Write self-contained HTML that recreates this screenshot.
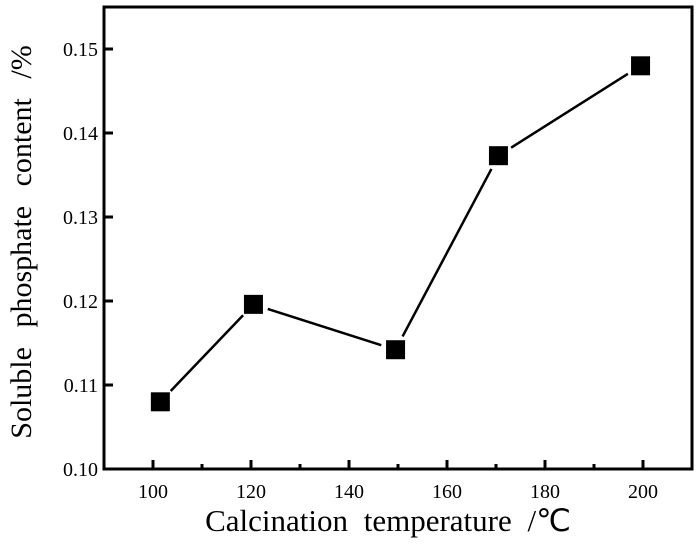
<!DOCTYPE html>
<html><head><meta charset="utf-8"><style>body{margin:0;background:#fff}svg{display:block}</style></head>
<body>
<svg id="c" width="700" height="546" font-family="'Liberation Serif',serif">
<rect x="104" y="7" width="588" height="462" fill="none" stroke="#000" stroke-width="3"/>
<g id="ax"></g><g id="ser"></g>
<text x="388" y="531" font-size="31" word-spacing="8" text-anchor="middle">Calcination temperature /℃</text>
<text transform="translate(31,242) rotate(-90)" font-size="30" word-spacing="12" text-anchor="middle">Soluble phosphate content /%</text>
</svg>
<script>
const temps=[101.5,120.5,149.5,170.5,199.5];
const content=[0.108,0.1196,0.1142,0.1373,0.148];
const xTicks=[100,120,140,160,180,200];
const yTicks=[0.10,0.11,0.12,0.13,0.14,0.15];
const NS='http://www.w3.org/2000/svg';
const X=v=>153+(v-100)*4.9, Y=v=>469-(v-0.10)*8400;
function mk(t,a,p){const e=document.createElementNS(NS,t);for(const k in a)e.setAttribute(k,a[k]);p.appendChild(e);return e;}
const ax=document.getElementById('ax'),ser=document.getElementById('ser');
xTicks.forEach(v=>{const l=mk('line',{x1:X(v),x2:X(v),y1:469,y2:460,stroke:'#000','stroke-width':3},ax);

const m=mk('line',{x1:X(v+10),x2:X(v+10),y1:469,y2:464,stroke:'#000','stroke-width':3},ax);

const t=mk('text',{x:X(v),y:498,'font-size':20,'text-anchor':'middle'},ax);t.textContent=v;
});
yTicks.forEach(v=>{const l=mk('line',{x1:104,x2:113,y1:Y(v),y2:Y(v),stroke:'#000','stroke-width':3},ax);

const t=mk('text',{x:98,y:Y(v)+7,'font-size':20,'text-anchor':'end'},ax);t.textContent=v.toFixed(2);
});
for(let i=0;i<temps.length-1;i++){const x1=X(temps[i]),y1=Y(content[i]),x2=X(temps[i+1]),y2=Y(content[i+1]);
const dx=x2-x1,dy=y2-y1,d=Math.hypot(dx,dy),g=15;
const l=mk('line',{x1:x1+dx/d*g,y1:y1+dy/d*g,x2:x2-dx/d*g,y2:y2-dy/d*g,stroke:'#000','stroke-width':2.5},ser);
}
temps.forEach((v,i)=>{const r=mk('rect',{x:X(v)-9.5,y:Y(content[i])-9.5,width:19,height:19,fill:'#000'},ser);
});
</script>
</body></html>
